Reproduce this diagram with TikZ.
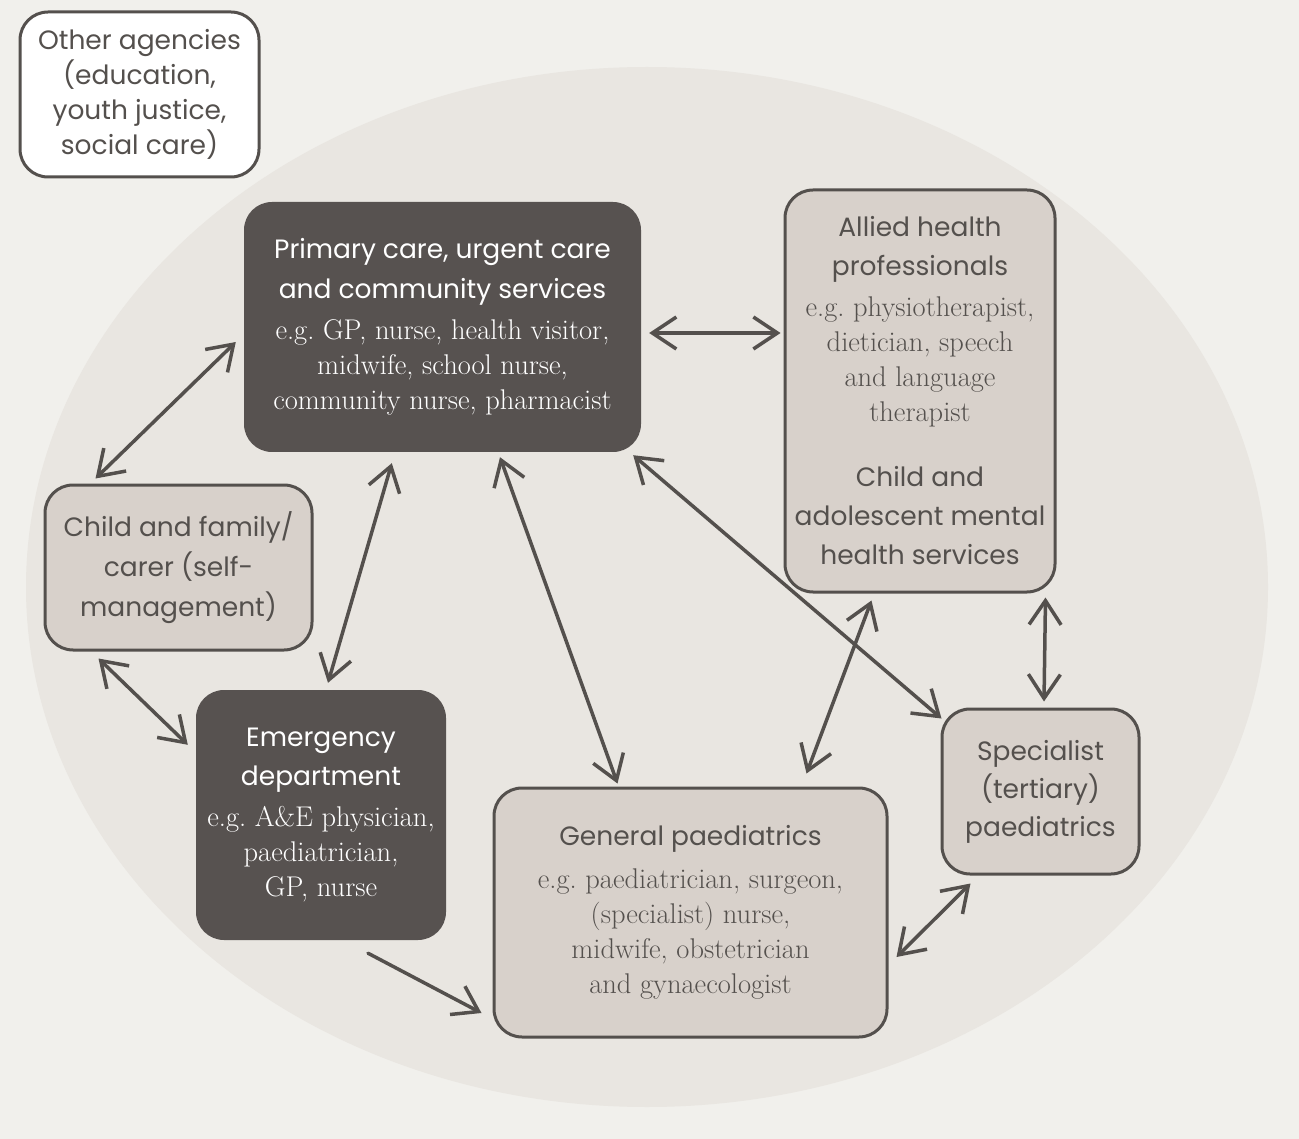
\documentclass[tikz,border=0pt]{standalone}
\usepackage{fontspec}
\setsansfont{Poppins}
\usetikzlibrary{arrows.meta}
\definecolor{bgcol}{HTML}{F1F0EC}
\definecolor{ovalcol}{HTML}{E9E6E1}
\definecolor{boxlight}{HTML}{D8D1CB}
\definecolor{boxdark}{HTML}{575250}
\definecolor{inkcol}{HTML}{54504D}
\newcommand{\hd}{\sffamily\fontsize{26.5}{35}\selectfont}
\newcommand{\eg}{\rmfamily\fontsize{28.5}{35}\selectfont}
\frenchspacing

\begin{document}
\begin{tikzpicture}[x=1pt,y=-1pt,
    box/.style={rounded corners=28pt, align=center, inner sep=0pt, font=\eg},
    lightbox/.style={box, draw=inkcol, line width=3pt, fill=boxlight, text=inkcol},
    darkbox/.style={box, fill=boxdark, text=white},
    whitebox/.style={box, draw=inkcol, line width=3pt, fill=white, text=inkcol},
    link/.style={draw=inkcol, line width=3.5pt, line cap=round,
        {Straight Barb[length=24pt,width=32pt]}-{Straight Barb[length=24pt,width=32pt]}},
    onelink/.style={link, -{Straight Barb[length=24pt,width=32pt]}}]
    \useasboundingbox (0,0) rectangle (1299,1139);
    \fill[bgcol] (0,0) rectangle (1299,1139);
    \fill[ovalcol] (647,587) ellipse [x radius=621, y radius=520];

    % boxes
    \node[whitebox, minimum width=239pt, minimum height=165pt] (other) at (139.5,94.5) {\hd Other agencies\\ \hd (education,\\ \hd youth justice,\\ \hd social care)};
    \node[darkbox, minimum width=397pt, minimum height=250pt] (prim) at (442.5,327) {\hd Primary care, urgent care\\[5pt] \hd and community services\\[6pt] e.g. GP, nurse, health visitor,\\ midwife, school nurse,\\ community nurse, pharmacist};
    \node[lightbox, minimum width=270pt, minimum height=402pt] (allied) at (920,391) {\hd Allied health\\[4pt] \hd professionals\\[6pt] e.g. physiotherapist,\\ dietician, speech\\ and language\\ therapist\\[30pt] \hd Child and\\[4pt] \hd adolescent mental\\[4pt] \hd health services};
    \node[lightbox, minimum width=267pt, minimum height=165pt] (child) at (178.5,567.5) {\hd Child and family/\\[5pt] \hd carer (self-\\[5pt] \hd management)};
    \node[darkbox, minimum width=250pt, minimum height=250pt] (emerg) at (321,815) {\hd Emergency\\[4pt] \hd department\\[6pt] e.g. A\&E physician,\\ paediatrician,\\ GP, nurse};
    \node[lightbox, minimum width=393pt, minimum height=249pt] (gen) at (690.5,912.5) {\hd General paediatrics\\[8pt] e.g. paediatrician, surgeon,\\ (specialist) nurse,\\ midwife, obstetrician\\ and gynaecologist};
    \node[lightbox, minimum width=197pt, minimum height=165pt] (spec) at (1040.5,791.5) {\hd Specialist\\[3pt] \hd (tertiary)\\[3pt] \hd paediatrics};

    % connectors
    \draw[link] ([shift={(8,6)}]prim.east) -- ([shift={(-3,-58)}]allied.west);
    \draw[link] ([shift={(52,-5)}]child.north west) -- ([shift={(-8,15)}]prim.west);
    \draw[link] ([shift={(55,7)}]child.south west) -- ([shift={(-8,55)}]emerg.north west);
    \draw[link] ([shift={(148,11)}]prim.south west) -- ([shift={(7,-7)}]emerg.north);
    \draw[link] ([shift={(57.5,5)}]prim.south) -- ([shift={(125,-3)}]gen.north west);
    \draw[link] ([shift={(-8,3)}]prim.south east) -- ([shift={(1,11)}]spec.north west);
    \draw[link] ([shift={(88,7)}]allied.south west) -- ([shift={(-82,-13)}]gen.north east);
    \draw[link] ([shift={(-11,4)}]allied.south east) -- ([shift={(3.5,-6)}]spec.north);
    \draw[link] ([shift={(30,8)}]spec.south west) -- ([shift={(8,44.5)}]gen.east);
    \draw[onelink] ([shift={(47,13)}]emerg.south) -- ([shift={(-11,100.5)}]gen.west);
\end{tikzpicture}
\end{document}
